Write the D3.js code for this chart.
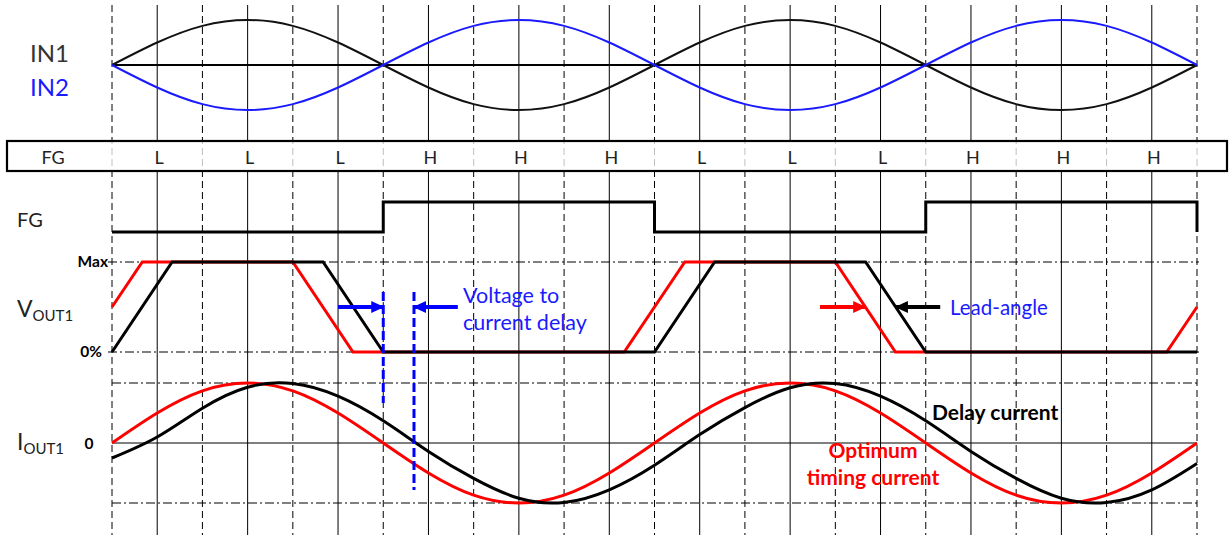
<!DOCTYPE html>
<html><head><meta charset="utf-8">
<script src="https://cdn.jsdelivr.net/npm/d3@7"></script>
<style>html,body{margin:0;padding:0;background:#fff;} svg{display:block;font-family:Lato,"Open Sans",sans-serif;}</style>
</head><body>
<svg id="c" width="1231" height="537"></svg>
<script>
// ---- data (x in grid units 0..24, one unit = 30 electrical degrees) ----
const gridUnits = d3.range(0, 25);
const in1 = [0,0.5,0.87,1,0.87,0.5,0,-0.5,-0.87,-1,-0.87,-0.5,0,0.5,0.87,1,0.87,0.5,0,-0.5,-0.87,-1,-0.87,-0.5,0];
const in2 = [0,-0.5,-0.87,-1,-0.87,-0.5,0,0.5,0.87,1,0.87,0.5,0,-0.5,-0.87,-1,-0.87,-0.5,0,0.5,0.87,1,0.87,0.5,0];
const fgLabels = ["L","L","L","H","H","H","L","L","L","H","H","H"];
const fgUnits = [1,3,5,7,9,11,13,15,17,19,21,23];
const fgSignal = [[0,0],[6,0],[6,1],[12,1],[12,0],[18,0],[18,1],[24,1],[24,0]];
const voutDelay = [[0,0],[1.33,1],[4.67,1],[6,0],[12,0],[13.33,1],[16.67,1],[18,0],[24,0]];
const voutOpt = [[0,0.5],[0.67,1],[4,1],[5.33,0],[11.33,0],[12.67,1],[16,1],[17.33,0],[23.33,0],[24,0.5]];
const ioutOpt = [0,0.5,0.87,1,0.87,0.5,0,-0.5,-0.87,-1,-0.87,-0.5,0,0.5,0.87,1,0.87,0.5,0,-0.5,-0.87,-1,-0.87,-0.5,0];
const ioutDelay = [-0.25,0.1,0.58,0.93,0.99,0.78,0.37,-0.14,-0.59,-0.92,-0.99,-0.78,-0.37,0.14,0.59,0.92,0.99,0.78,0.37,-0.14,-0.59,-0.92,-0.99,-0.78,-0.34];
// annotation arrows: [fromUnit, toUnit, voutLevel, colour]
const arrows = [[5,6,0.5,"#0000ff"],[7.65,6.68,0.5,"#0000ff"],[15.66,16.66,0.5,"#ff0000"],[18.32,17.34,0.5,"#000000"]];
const delayMarkers = [[6,292,403],[6.68,292,490]];

const svg = d3.select("#c");
const x = d3.scaleLinear().domain([0,24]).range([112,1197]);
const yIn = d3.scaleLinear().domain([-1,1]).range([110,20]);
const yFg = d3.scaleLinear().domain([0,1]).range([232,202]);
const yV = d3.scaleLinear().domain([0,1]).range([352,262]);
const yI = d3.scaleLinear().domain([-1,1]).range([503,383]);

// markers
const defs = svg.append("defs");
[["b","#0000ff"],["r","#ff0000"],["k","#000000"]].forEach(([id,c])=>{
  defs.append("marker").attr("id","ah"+id).attr("markerUnits","userSpaceOnUse")
    .attr("markerWidth",14).attr("markerHeight",14).attr("refX",12).attr("refY",7).attr("orient","auto")
    .append("path").attr("d","M0,1 L13,7 L0,13 Z").attr("fill",c);
});

// grid verticals
const g = svg.append("g");
gridUnits.forEach(u=>{
  const dashed = u%2===0;
  if (dashed) {
    g.append("line").attr("x1",x(u)).attr("x2",x(u)).attr("y1",5).attr("y2",535)
      .attr("stroke","#000").attr("stroke-width",1).attr("stroke-dasharray","7,4");
  } else {
    g.append("line").attr("x1",x(u)).attr("x2",x(u)).attr("y1",5).attr("y2",141)
      .attr("stroke","#000").attr("stroke-width",1);
    g.append("line").attr("x1",x(u)).attr("x2",x(u)).attr("y1",171).attr("y2",535)
      .attr("stroke","#000").attr("stroke-width",1);
  }
});

// horizontal references
svg.append("line").attr("x1",x(0)).attr("x2",x(24)).attr("y1",yIn(0)).attr("y2",yIn(0)).attr("stroke","#000").attr("stroke-width",2);
[[yV(1),108],[yV(0),108],[yI(1),112],[yI(-1),112]].forEach(([yy,x0])=>{
  svg.append("line").attr("x1",x0).attr("x2",x(24)+2).attr("y1",yy).attr("y2",yy)
    .attr("stroke","#000").attr("stroke-width",1).attr("stroke-dasharray","9,3,2,3");
});
svg.append("line").attr("x1",x(0)).attr("x2",x(24)).attr("y1",yI(0)).attr("y2",yI(0)).attr("stroke","#000").attr("stroke-width",1.2);

// FG box
svg.append("rect").attr("x",7).attr("y",141).attr("width",1220).attr("height",30)
  .attr("fill","#fff").attr("fill-opacity",0.75).attr("stroke","#000").attr("stroke-width",2.2);
svg.append("text").attr("x",53).attr("y",164).attr("text-anchor","middle").attr("font-size",18).attr("fill","#222").text("FG");
svg.selectAll(".fgl").data(fgLabels).enter().append("text")
  .attr("x",(d,i)=>x(fgUnits[i])+2).attr("y",164).attr("text-anchor","middle").attr("font-size",18).attr("fill","#222").text(d=>d);

// IN curves
const lineIn = d3.line().x((d,i)=>x(i)).y(d=>yIn(d)).curve(d3.curveNatural);
svg.append("path").attr("d",lineIn(in1)).attr("fill","none").attr("stroke","#111").attr("stroke-width",2);
svg.append("path").attr("d",lineIn(in2)).attr("fill","none").attr("stroke","#1a1aff").attr("stroke-width",2);
svg.append("text").attr("x",30).attr("y",62).attr("font-size",24).attr("fill","#333").text("IN1");
svg.append("text").attr("x",30).attr("y",96).attr("font-size",24).attr("fill","#1a1aff").text("IN2");

// FG signal
const lineStep = d3.line().x(d=>x(d[0])).y(d=>yFg(d[1]));
svg.append("path").attr("d",lineStep(fgSignal)).attr("fill","none").attr("stroke","#000").attr("stroke-width",3);
svg.append("text").attr("x",17).attr("y",227).attr("font-size",20).attr("fill","#222").text("FG");

// VOUT
const lineV = d3.line().x(d=>x(d[0])).y(d=>yV(d[1]));
svg.append("path").attr("d",lineV(voutOpt)).attr("fill","none").attr("stroke","#ff0000").attr("stroke-width",3);
svg.append("path").attr("d",lineV(voutDelay)).attr("fill","none").attr("stroke","#000").attr("stroke-width",3);
svg.append("text").attr("x",108).attr("y",yV(1)+5).attr("text-anchor","end").attr("font-size",15.5).attr("font-weight","bold").text("Max");
svg.append("text").attr("x",102).attr("y",yV(0)+5).attr("text-anchor","end").attr("font-size",15.5).attr("font-weight","bold").text("0%");
const vt = svg.append("text").attr("x",17).attr("y",317).attr("font-size",23).attr("fill","#222");
vt.append("tspan").text("V");
vt.append("tspan").attr("font-size",15).attr("dy",4).text("OUT1");

// IOUT
const lineI = d3.line().x((d,i)=>x(i)).y(d=>yI(d)).curve(d3.curveNatural);
svg.append("path").attr("d",lineI(ioutOpt)).attr("fill","none").attr("stroke","#ff0000").attr("stroke-width",3);
svg.append("path").attr("d",lineI(ioutDelay)).attr("fill","none").attr("stroke","#000").attr("stroke-width",3);
const it = svg.append("text").attr("x",17).attr("y",450).attr("font-size",23).attr("fill","#222");
it.append("tspan").text("I");
it.append("tspan").attr("font-size",15).attr("dy",4).text("OUT1");
svg.append("text").attr("x",89).attr("y",449).attr("text-anchor","middle").attr("font-size",15.5).attr("font-weight","bold").text("0");

// delay markers
delayMarkers.forEach(([u,y1,y2])=>{
  svg.append("line").attr("x1",x(u)).attr("x2",x(u)).attr("y1",y1).attr("y2",y2)
    .attr("stroke","#0000ff").attr("stroke-width",3).attr("stroke-dasharray","9,4");
});
// arrows
arrows.forEach(([a,b,lv,c])=>{
  const id = c==="#0000ff"?"b":(c==="#ff0000"?"r":"k");
  svg.append("line").attr("x1",x(a)).attr("x2",x(b)).attr("y1",yV(lv)).attr("y2",yV(lv))
    .attr("stroke",c).attr("stroke-width",4).attr("marker-end","url(#ah"+id+")");
});

// annotations
svg.append("text").attr("x",463).attr("y",303).attr("font-size",21.5).attr("fill","#1a1aff").text("Voltage to");
svg.append("text").attr("x",463).attr("y",330).attr("font-size",21.5).attr("fill","#1a1aff").text("current delay");
svg.append("text").attr("x",950).attr("y",315).attr("font-size",20.5).attr("fill","#1a1aff").text("Lead-angle");
svg.append("text").attr("x",932).attr("y",420).attr("font-size",21).attr("font-weight","bold").attr("fill","#000").text("Delay current");
svg.append("text").attr("x",873).attr("y",458).attr("text-anchor","middle").attr("font-size",21).attr("font-weight","bold").attr("fill","#ff0000").text("Optimum");
svg.append("text").attr("x",873).attr("y",485).attr("text-anchor","middle").attr("font-size",21).attr("font-weight","bold").attr("fill","#ff0000").text("timing current");
</script>
</body></html>
